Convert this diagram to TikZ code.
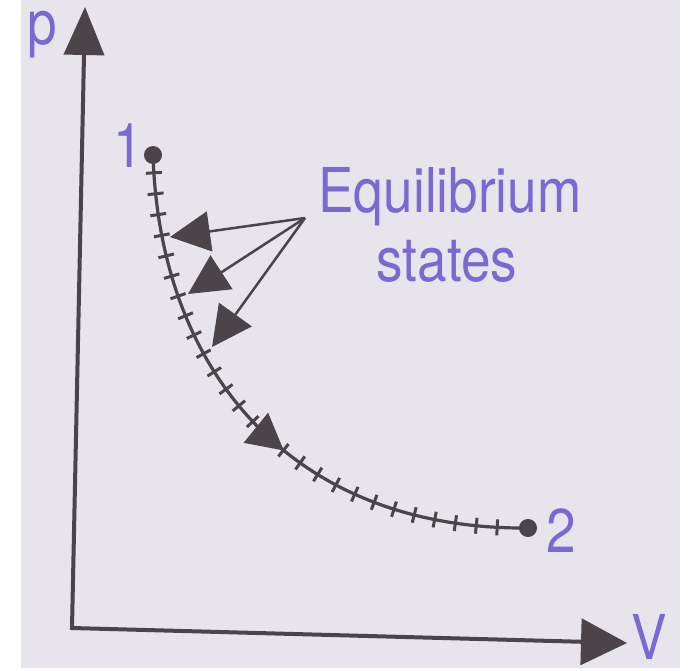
\documentclass[tikz,border=0pt]{standalone}
\usepackage{fontspec}
\newfontfamily\diagfont[FakeStretch=0.86]{TeX Gyre Heros}
\usetikzlibrary{arrows.meta,decorations.markings}

\begin{document}
\begin{tikzpicture}[
                    x=1bp, y=-1bp,
                    lbl/.style = {
                        text=colorText, inner sep=0pt, font=\diagfont\fontsize{62}{69}\selectfont
                    },
                    axis/.style = {
                        draw=colorInk, line width=4bp, {Triangle[length=48bp, width=40bp]}-{Triangle[length=46bp, width=46bp]}
                    },
                    pointer/.style = {
                        draw=colorInk, line width=2.5bp, -{Triangle[length=40bp, width=40bp]}
                    },
                    statept/.style = {
                        circle, fill=colorInk, minimum size=18bp, inner sep=0pt
                    },
                    process/.style = {
                        draw=colorInk, line width=3.2bp,
                        decoration={markings,
                            mark=between positions 0.03 and 0.98 step 21bp with {\draw[line width=3bp] (0,-8bp) -- (0,8bp);},
                            mark=at position 0.56 with {\arrow{Triangle[length=36bp, width=38bp]}}},
                        postaction={decorate}
                    }
                ]
                    % Colours of the photographed page
                    \definecolor{colorBg}{RGB}{232,228,236}
                    \definecolor{colorInk}{RGB}{75,68,72}
                    \definecolor{colorText}{RGB}{120,106,210}

                    % Page
                    \fill[white] (0,0) rectangle (690,671);
                    \useasboundingbox (0,0) rectangle (690,671);
                    \fill[colorBg] (21,0) rectangle (680,668);

                    % Axes
                    \coordinate (origin) at (72,628);
                    \coordinate (ptip) at (85,7);
                    \coordinate (vtip) at (627,643);
                    \draw[axis] (ptip) -- (origin) -- (vtip);

                    % States
                    \node[statept] (s1) at (153,155) {};
                    \node[statept] (s2) at (528,528) {};

                    % Quasi-static process 1-2
                    \draw[process] (s1.center) .. controls (160,375) and (295,530) .. (s2.center);

                    % Pointers to equilibrium states
                    \coordinate (src) at (305,218);
                    \coordinate (eq1) at (170,237);
                    \coordinate (eq2) at (188,294);
                    \coordinate (eq3) at (212,347);
                    \draw[pointer] (src) -- (eq1);
                    \draw[pointer] (src) -- (eq2);
                    \draw[pointer] (src) -- (eq3);

                    % Labels
                    \node[lbl, anchor=base] (plabel) at (42,45) {p};
                    \node[lbl, anchor=base] (vlabel) at (649,659) {V};
                    \node[lbl, anchor=base] (lab1) at (128,167) {1};
                    \node[lbl, anchor=base] (lab2) at (561,552) {2};
                    \node[lbl, anchor=base] (eqtop) at (450,212) {Equilibrium};
                    \node[lbl, anchor=base] (eqbot) at (447,281) {states};
                \end{tikzpicture}
\end{document}
